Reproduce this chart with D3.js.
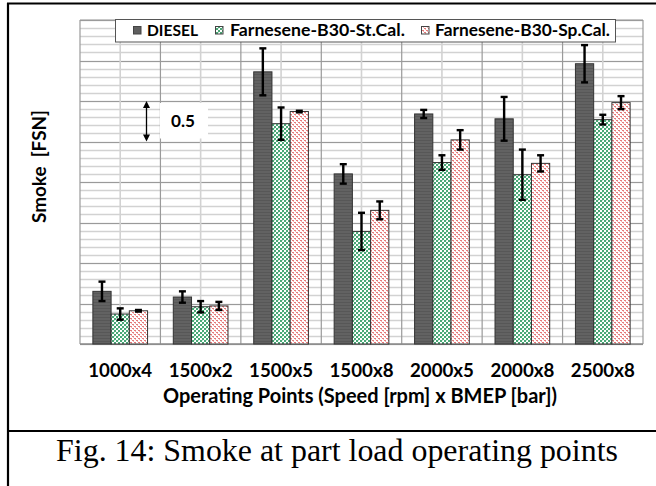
<!DOCTYPE html>
<html><head><meta charset="utf-8">
<script src="https://cdn.jsdelivr.net/npm/d3@7"></script>
<style>html,body{margin:0;padding:0;background:#fff;}svg{display:block;}</style>
</head><body>
<script>
// ---- data (y unit = FSN, major grid = 0.5) ----
const categories = ["1000x4","1500x2","1500x5","1500x8","2000x5","2000x8","2500x8"];
const seriesNames = ["DIESEL","Farnesene-B30-St.Cal.","Farnesene-B30-Sp.Cal."];
const diesel      = [0.65, 0.58, 3.36, 2.10, 2.84, 2.78, 3.46];
const dieselErr   = [0.12, 0.07, 0.29, 0.12, 0.05, 0.27, 0.23];
const stCal       = [0.37, 0.46, 2.72, 1.39, 2.24, 2.09, 2.77];
const stCalErr    = [0.07, 0.07, 0.20, 0.23, 0.09, 0.31, 0.06];
const spCal       = [0.41, 0.47, 2.87, 1.65, 2.52, 2.23, 2.98];
const spCalErr    = [0.01, 0.05, 0.01, 0.11, 0.12, 0.10, 0.08];
const yDomain = [0, 4];
const annotationRange = [2.5, 3.0];
const annotationValue = "0.5";
const xTitle = "Operating Points (Speed [rpm] x BMEP [bar])";
const yTitle = "Smoke  [FSN]";
const caption = "Fig. 14: Smoke at part load operating points";

const W = 656, H = 486;
const svg = d3.select("body").append("svg").attr("width", W).attr("height", H);
const defs = svg.append("defs");

// patterns
const pd = defs.append("pattern").attr("id","pDiesel").attr("patternUnits","userSpaceOnUse").attr("width",3).attr("height",3);
pd.append("rect").attr("width",3).attr("height",3).attr("fill","#626262");
pd.append("rect").attr("y",2).attr("width",3).attr("height",1).attr("fill","#575757");
const pg = defs.append("pattern").attr("id","pGreen").attr("patternUnits","userSpaceOnUse").attr("width",4).attr("height",4);
pg.append("rect").attr("width",4).attr("height",4).attr("fill","#ffffff");
pg.append("rect").attr("x",0).attr("y",0).attr("width",2).attr("height",2).attr("fill","#4aa877");
pg.append("rect").attr("x",2).attr("y",2).attr("width",2).attr("height",2).attr("fill","#4aa877");
pg.append("rect").attr("x",2).attr("y",0).attr("width",1).attr("height",1).attr("fill","#c4e6d3");
const pp = defs.append("pattern").attr("id","pPink").attr("patternUnits","userSpaceOnUse").attr("width",4).attr("height",4);
pp.append("rect").attr("width",4).attr("height",4).attr("fill","#ffffff");
pp.append("rect").attr("x",0).attr("y",0).attr("width",2).attr("height",1).attr("fill","#e57a7a");
pp.append("rect").attr("x",2).attr("y",2).attr("width",2).attr("height",1).attr("fill","#e57a7a");
pp.append("rect").attr("x",1).attr("y",1).attr("width",1).attr("height",1).attr("fill","#f2b5b5");
pp.append("rect").attr("x",3).attr("y",3).attr("width",1).attr("height",1).attr("fill","#f2b5b5");
const fills = ["url(#pDiesel)","url(#pGreen)","url(#pPink)"];
const swatchFills = ["#5f5f5f","url(#pGreen)","url(#pPink)"];

// frame
svg.append("line").attr("x1",8).attr("x2",8).attr("y1",3).attr("y2",H).attr("stroke","#000").attr("stroke-width",2.2);
svg.append("line").attr("x1",7).attr("x2",W).attr("y1",3.5).attr("y2",3.5).attr("stroke","#000").attr("stroke-width",2);
svg.append("line").attr("x1",7).attr("x2",W).attr("y1",431).attr("y2",431).attr("stroke","#000").attr("stroke-width",2.2);

// scales
const plot = {left:80, right:643, top:20, bottom:344};
const x0 = d3.scaleBand().domain(categories).range([plot.left, plot.right]).padding(0);
const bw = x0.bandwidth();
const x1 = d3.scaleBand().domain(seriesNames).range([bw*0.16, bw*0.84]).padding(0);
const y = d3.scaleLinear().domain(yDomain).range([plot.bottom, plot.top]);

const g = svg.append("g");
// horizontal grid
const minor = y.ticks(40), major = y.ticks(8);
g.selectAll("line.hmin").data(minor).join("line")
  .attr("x1",plot.left).attr("x2",plot.right)
  .attr("y1",d=>Math.round(y(d))+0.5).attr("y2",d=>Math.round(y(d))+0.5)
  .attr("stroke","#d2d2d2").attr("stroke-width",1.6);
g.selectAll("line.hmaj").data(major).join("line")
  .attr("x1",plot.left).attr("x2",plot.right)
  .attr("y1",d=>Math.round(y(d))+0.5).attr("y2",d=>Math.round(y(d))+0.5)
  .attr("stroke","#9a9a9a").attr("stroke-width",1.2);
// vertical grid
g.selectAll("line.vc").data(categories).join("line")
  .attr("x1",d=>x0(d)+bw/2).attr("x2",d=>x0(d)+bw/2).attr("y1",plot.top).attr("y2",plot.bottom)
  .attr("stroke","#d2d2d2").attr("stroke-width",1.6);
g.selectAll("line.vb").data(categories.concat(["__end"])).join("line")
  .attr("x1",d=>d==="__end"?plot.right:x0(d)).attr("x2",d=>d==="__end"?plot.right:x0(d))
  .attr("y1",plot.top).attr("y2",plot.bottom)
  .attr("stroke","#9a9a9a").attr("stroke-width",1.2);
g.append("line").attr("x1",plot.left).attr("x2",plot.right).attr("y1",plot.top).attr("y2",plot.top).attr("stroke","#9a9a9a").attr("stroke-width",1.2);
g.append("line").attr("x1",plot.left).attr("x2",plot.right).attr("y1",plot.bottom).attr("y2",plot.bottom).attr("stroke","#8a8a8a").attr("stroke-width",1.5);

// annotation (0.5 span marker)
const annY1 = y(annotationRange[1]), annY2 = y(annotationRange[0]);
svg.append("rect").attr("x",160).attr("y",annY1+2).attr("width",48).attr("height",annY2-annY1-5).attr("fill","#fff");
const ax = 146.5;
svg.append("line").attr("x1",ax).attr("x2",ax).attr("y1",annY1+5).attr("y2",annY2-5).attr("stroke","#000").attr("stroke-width",1.3);
svg.append("path").attr("d",`M${ax},${annY1} l-3.5,7 h7 z`).attr("fill","#000");
svg.append("path").attr("d",`M${ax},${annY2} l-3.5,-7 h7 z`).attr("fill","#000");
const annT = svg.append("text").attr("x",183).attr("y",(annY1+annY2)/2+5.5).attr("text-anchor","middle")
  .attr("font-family","Lato").attr("font-weight","bold").attr("font-size",16).attr("fill","#000").text(annotationValue);

// bars
const series = [
  {name:seriesNames[0], vals:diesel, errs:dieselErr},
  {name:seriesNames[1], vals:stCal, errs:stCalErr},
  {name:seriesNames[2], vals:spCal, errs:spCalErr}
];
const rows = [];
series.forEach((s,si)=>categories.forEach((c,ci)=>rows.push({c, s:s.name, si, v:s.vals[ci], e:s.errs[ci]})));
svg.append("g").selectAll("rect").data(rows).join("rect")
  .attr("x",d=>x0(d.c)+x1(d.s)).attr("width",x1.bandwidth())
  .attr("y",d=>y(d.v)).attr("height",d=>y(0)-y(d.v))
  .attr("fill",d=>fills[d.si]).attr("stroke","#333").attr("stroke-width",1);
// error bars
const eg = svg.append("g").attr("stroke","#000").attr("stroke-width",2.4);
rows.forEach(d=>{
  const cx = x0(d.c)+x1(d.s)+x1.bandwidth()/2;
  eg.append("line").attr("x1",cx).attr("x2",cx).attr("y1",y(d.v+d.e)).attr("y2",y(d.v-d.e));
  eg.append("line").attr("x1",cx-3.5).attr("x2",cx+3.5).attr("y1",y(d.v+d.e)).attr("y2",y(d.v+d.e));
  eg.append("line").attr("x1",cx-3.5).attr("x2",cx+3.5).attr("y1",y(d.v-d.e)).attr("y2",y(d.v-d.e));
});

function fit(sel, target){
  const w = sel.node().getComputedTextLength();
  const fs = parseFloat(sel.attr("font-size"));
  sel.attr("font-size", fs*target/w);
}
fit(annT, 24);

// legend
const leg = svg.append("g");
leg.append("rect").attr("x",115.5).attr("y",19.5).attr("width",500).attr("height",22.5).attr("fill","#fff").attr("stroke","#555").attr("stroke-width",1);
const legX = [{sw:133,tx:147},{sw:215,tx:230},{sw:421,tx:435}];
seriesNames.forEach((n,i)=>{
  leg.append("rect").attr("x",legX[i].sw+0.5).attr("y",26.5).attr("width",7.5).attr("height",7.5)
    .attr("fill",swatchFills[i]).attr("stroke","#444").attr("stroke-width",1);
  const t = leg.append("text").attr("x",legX[i].tx).attr("y",36).attr("font-family","Lato").attr("font-weight","bold")
    .attr("font-size",15).attr("fill","#000").text(n);
  if(i===0) fit(t,51); else fit(t,175);
});

// x axis labels
const xa = svg.append("g").attr("transform",`translate(0,${plot.bottom})`).call(d3.axisBottom(x0).tickSize(0).tickPadding(0));
xa.select(".domain").remove();
xa.selectAll("text").attr("font-family","Lato").attr("font-weight","bold").attr("font-size",17).attr("fill","#000")
  .attr("dy",0).attr("y",377-plot.bottom);
xa.selectAll("text").each(function(){ fit(d3.select(this),64); });

// axis titles
const xt = svg.append("text").attr("x",360).attr("y",403).attr("text-anchor","middle")
  .attr("font-family","Lato").attr("font-weight","bold").attr("font-size",17).attr("fill","#000").text(xTitle);
fit(xt,394);
const yt = svg.append("text").attr("transform","translate(46,166.5) rotate(-90)").attr("text-anchor","middle")
  .attr("font-family","Lato").attr("font-weight","bold").attr("font-size",16).attr("fill","#000")
  .style("white-space","pre").text(yTitle);
fit(yt,113);

// caption
const cap = svg.append("text").attr("x",337).attr("y",461).attr("text-anchor","middle")
  .attr("font-family","Liberation Serif, Times New Roman, serif").attr("font-size",32).attr("fill","#000").text(caption);
fit(cap,562);
</script>
</body></html>
